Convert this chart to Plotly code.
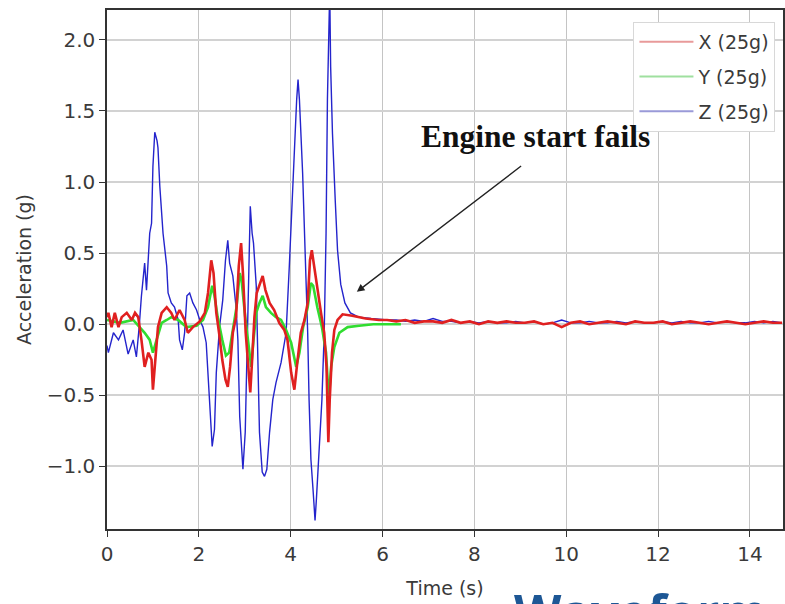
import plotly.graph_objects as go

# ---------------- data ----------------
x_t = [0.00,0.03,0.10,0.17,0.25,0.32,0.43,0.54,0.61,0.68,0.75,0.82,0.90,0.97,1.00,1.06,1.11,1.19,1.30,1.40,
       1.47,1.58,1.69,1.76,1.87,2.02,2.13,2.20,2.27,2.32,2.38,2.44,2.51,2.58,2.63,2.68,2.74,2.81,2.87,2.92,
       2.96,3.02,3.07,3.12,3.16,3.21,3.26,3.32,3.39,3.45,3.54,3.64,3.75,3.86,3.93,4.01,4.08,4.15,4.22,4.30,
       4.37,4.42,4.46,4.51,4.58,4.66,4.73,4.78,4.82,4.85,4.90,4.95,5.02,5.13,5.34,5.63,5.92,
       6.1,6.3,6.5,6.7,6.9,7.1,7.3,7.5,7.7,7.9,8.1,8.3,8.5,8.7,8.9,9.1,9.3,9.5,9.7,9.9,
       10.1,10.3,10.5,10.7,10.9,11.1,11.3,11.5,11.7,11.9,12.1,12.3,12.5,12.7,12.9,13.1,13.3,13.5,13.7,13.9,
       14.1,14.3,14.5,14.7]
x_g = [0.05,0.08,-0.02,0.08,-0.02,0.05,0.08,0.03,0.08,0.05,-0.11,-0.30,-0.20,-0.25,-0.46,-0.20,-0.02,0.08,0.12,0.08,
       0.03,0.10,0.03,-0.06,-0.02,0.02,0.08,0.22,0.45,0.36,0.08,-0.06,-0.25,-0.39,-0.44,-0.30,-0.06,0.05,0.41,0.57,
       0.36,-0.06,-0.30,-0.48,-0.25,0.05,0.22,0.27,0.34,0.24,0.15,0.10,0.01,-0.04,-0.11,-0.34,-0.46,-0.25,-0.06,0.03,
       0.15,0.45,0.52,0.41,0.24,0.08,-0.06,-0.30,-0.83,-0.53,-0.20,-0.04,0.03,0.07,0.06,0.04,0.03,
       0.03,0.02,0.03,0.01,0.02,0.02,0.01,0.03,0.01,0.02,0.00,0.02,0.01,0.02,0.01,0.01,0.02,0.00,0.01,-0.02,
       0.01,0.02,0.00,0.01,0.02,0.01,0.00,0.02,0.01,0.01,0.02,0.00,0.01,0.02,0.01,0.00,0.01,0.02,0.01,0.00,
       0.01,0.02,0.01,0.01]

y_t = [0.00,0.28,0.57,0.72,0.82,0.93,1.00,1.08,1.19,1.30,1.40,1.55,1.73,1.95,2.09,2.20,2.29,2.34,2.41,2.51,
       2.59,2.66,2.74,2.82,2.89,2.93,3.01,3.08,3.14,3.19,3.25,3.32,3.39,3.46,3.57,3.68,3.79,3.90,4.01,4.12,
       4.19,4.27,4.37,4.44,4.49,4.58,4.68,4.77,4.83,4.88,4.95,5.06,5.24,5.49,5.80,6.10,6.40]
y_g = [0.03,0.01,0.03,-0.02,-0.06,-0.11,-0.20,-0.11,0.01,0.03,0.05,0.03,-0.02,-0.01,0.03,0.12,0.27,0.20,0.05,-0.11,
       -0.22,-0.20,-0.04,0.12,0.36,0.31,0.05,-0.16,-0.30,-0.11,0.08,0.15,0.20,0.12,0.08,0.05,0.03,-0.04,-0.13,-0.30,
       -0.20,-0.02,0.12,0.29,0.27,0.12,-0.02,-0.20,-0.53,-0.30,-0.16,-0.06,-0.02,-0.01,0.00,0.00,0.00]

z_t = [0.00,0.03,0.14,0.25,0.35,0.46,0.57,0.64,0.70,0.75,0.82,0.86,0.93,0.97,1.00,1.04,1.09,1.11,1.15,1.22,
       1.30,1.33,1.40,1.47,1.55,1.58,1.64,1.69,1.74,1.80,1.87,1.95,2.02,2.09,2.16,2.23,2.29,2.34,2.38,2.45,
       2.52,2.58,2.63,2.67,2.74,2.81,2.85,2.89,2.96,3.01,3.04,3.08,3.12,3.16,3.19,3.25,3.28,3.32,3.38,3.43,
       3.48,3.54,3.61,3.68,3.79,3.90,3.97,4.03,4.08,4.13,4.16,4.19,4.26,4.33,4.37,4.40,4.44,4.49,4.53,4.56,
       4.62,4.68,4.73,4.77,4.80,4.85,4.87,4.91,4.97,5.02,5.09,5.18,5.30,5.48,5.75,6.10,
       6.3,6.5,6.7,6.9,7.1,7.3,7.5,7.7,7.9,8.1,8.3,8.5,8.7,8.9,9.1,9.3,9.5,9.7,9.9,10.1,
       10.3,10.5,10.7,10.9,11.1,11.3,11.5,11.7,11.9,12.1,12.3,12.5,12.7,12.9,13.1,13.3,13.5,13.7,13.9,14.1,
       14.3,14.5,14.7]
z_g = [-0.15,-0.20,-0.06,-0.11,-0.04,-0.21,-0.11,-0.23,-0.02,0.20,0.43,0.24,0.64,0.71,1.11,1.35,1.29,1.24,0.97,0.64,
       0.41,0.22,0.15,0.12,0.03,-0.11,-0.18,-0.06,0.20,0.22,0.15,0.10,0.03,-0.02,-0.13,-0.53,-0.86,-0.74,-0.34,-0.02,
       0.17,0.45,0.59,0.43,0.34,0.12,-0.11,-0.65,-1.02,-0.76,-0.30,0.41,0.83,0.64,0.57,0.27,-0.25,-0.76,-1.04,-1.07,
       -1.02,-0.76,-0.53,-0.41,-0.27,-0.06,0.41,0.85,1.29,1.58,1.72,1.58,1.06,0.41,-0.06,-0.53,-0.95,-1.18,-1.38,-1.23,
       -0.88,-0.53,-0.06,0.64,1.58,2.35,1.81,1.34,0.87,0.52,0.28,0.15,0.08,0.05,0.04,0.03,
       0.03,0.02,0.03,0.02,0.04,0.02,0.02,0.01,0.02,0.01,0.02,0.01,0.01,0.02,0.01,0.02,0.00,0.01,0.03,0.01,
       0.01,0.02,0.01,0.01,0.02,0.01,0.02,0.01,0.01,0.02,0.01,0.02,0.01,0.01,0.02,0.01,0.02,0.01,0.01,0.02,
       0.01,0.02,0.01]

series_names = ["X (25g)", "Y (25g)", "Z (25g)"]
x_ticks = [0, 2, 4, 6, 8, 10, 12, 14]
y_ticks = [-1.0, -0.5, 0.0, 0.5, 1.0, 1.5, 2.0]

# ---------------- figure ----------------
W, H = 785, 604
L, R, T, B = 107, 0, 10, 75
fig = go.Figure()

# draw order: Z, Y, X (X on top)
fig.add_trace(go.Scatter(x=z_t, y=z_g, mode="lines", line=dict(color="#2424cc", width=1.4),
                         showlegend=False, hoverinfo="skip"))
fig.add_trace(go.Scatter(x=y_t, y=y_g, mode="lines", line=dict(color="#30dd30", width=2.6),
                         showlegend=False, hoverinfo="skip"))
fig.add_trace(go.Scatter(x=x_t, y=x_g, mode="lines", line=dict(color="#e02020", width=2.6),
                         showlegend=False, hoverinfo="skip"))

# legend entries (pale samples as in the picture)
for name, col, grp in zip(series_names, ["#e89a9a", "#9fe09f", "#9a9ad8"], ["a", "b", "c"]):
    fig.add_trace(go.Scatter(x=[None], y=[None], mode="lines", name=name,
                             line=dict(color=col, width=2), legendgroup=grp))

axis_font = dict(family="DejaVu Sans", size=20, color="#3a3a3a")
fig.update_xaxes(range=[0, 14.72], tickvals=x_ticks, ticktext=[str(v) for v in x_ticks],
                 showgrid=True, gridcolor="#c4c4c4", gridwidth=1,
                 showline=True, linecolor="#333333", linewidth=1.5, mirror=True,
                 ticks="outside", ticklen=6, tickcolor="#333333", tickwidth=1.2,
                 tickfont=axis_font, zeroline=False,
                 title=dict(text="Time (s)", font=dict(family="DejaVu Sans", size=19, color="#3a3a3a"),
                            standoff=17))
fig.update_yaxes(range=[-1.44, 2.21], tickvals=y_ticks, tickformat=".1f",
                 showgrid=True, gridcolor="#d2d2d2", gridwidth=2,
                 showline=True, linecolor="#333333", linewidth=1.5, mirror=True,
                 ticks="outside", ticklen=6, tickcolor="#333333", tickwidth=1.2,
                 tickfont=axis_font, zeroline=False,
                 title=dict(text="Acceleration (g)", font=dict(family="DejaVu Sans", size=19, color="#3a3a3a"),
                            standoff=10))

fig.add_annotation(x=5.44, y=0.228, ax=9.05, ay=1.121, xref="x", yref="y", axref="x", ayref="y",
                   text="", showarrow=True, arrowhead=2, arrowsize=1.1, arrowwidth=1.4, arrowcolor="#222222")
fig.add_annotation(x=9.32, y=1.318, xref="x", yref="y", text="<b>Engine start fails</b>", showarrow=False,
                   font=dict(family="Liberation Serif", size=31.5, color="#111111"),
                   xanchor="center", yanchor="middle")
fig.add_annotation(x=(513 - L) / (W - L - R), y=(H - B - 576) / (H - T - B), xref="paper", yref="paper",
                   text="<b>Waveform</b>", showarrow=False, xanchor="left", yanchor="top",
                   font=dict(family="Open Sans", size=49, color="#1d5795"))

fig.update_layout(
    width=W, height=H, margin=dict(l=L, r=R, t=T, b=B),
    paper_bgcolor="white", plot_bgcolor="white",
    legend=dict(x=(635 - L) / (W - L - R), y=(H - B - 22) / (H - T - B), xanchor="left", yanchor="top",
                bgcolor="white", bordercolor="#d8d8d8", borderwidth=1,
                font=dict(family="DejaVu Sans", size=19, color="#3a3a3a"),
                traceorder="grouped", tracegroupgap=7, itemwidth=54),
)

fig.write_html("out.html")
